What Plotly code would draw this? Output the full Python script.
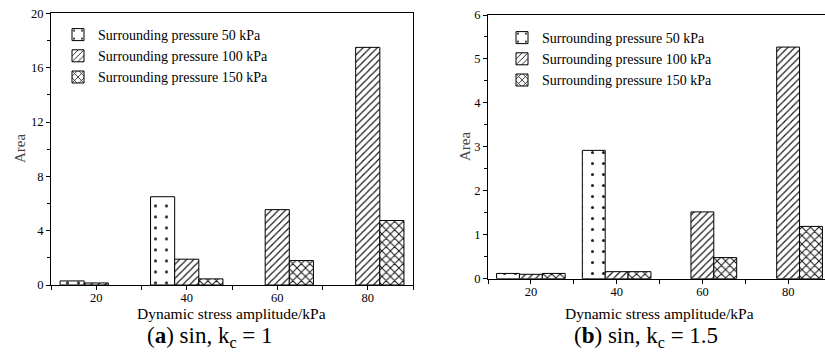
import plotly.graph_objects as go

W, H = 825, 356

amplitudes = [20, 40, 60, 80]
series_names = ["Surrounding pressure 50 kPa", "Surrounding pressure 100 kPa", "Surrounding pressure 150 kPa"]

# (a) sin, kc = 1  (None = no bar drawn)
a_50 = [0.3, 6.5, None, None]
a_100 = [0.15, 1.9, 5.55, 17.5]
a_150 = [None, 0.45, 1.8, 4.75]

# (b) sin, kc = 1.5
b_50 = [0.12, 2.92, None, None]
b_100 = [0.1, 0.16, 1.52, 5.27]
b_150 = [0.12, 0.16, 0.48, 1.19]

patterns = [
    dict(shape=".", size=11, solidity=0.06, fgcolor="#222", bgcolor="white", fillmode="replace"),
    dict(shape="/", size=5, solidity=0.22, fgcolor="#111", bgcolor="white", fillmode="replace"),
    dict(shape="x", size=6, solidity=0.3, fgcolor="#111", bgcolor="white", fillmode="replace"),
]

FONT = "Liberation Serif"

fig = go.Figure()

def add_set(values, xa, ya, legend):
    for name, vals, pat in zip(series_names, values, patterns):
        fig.add_trace(go.Bar(
            x=amplitudes, y=vals, name=name,
            xaxis=xa, yaxis=ya, legend=legend,
            marker=dict(color="white", pattern=pat, line=dict(color="black", width=1)),
        ))

add_set([a_50, a_100, a_150], "x", "y", "legend")
add_set([b_50, b_100, b_150], "x2", "y2", "legend2")

def px_x(p):
    return p / W

def px_y(p):
    return (H - p) / H

axis_common = dict(
    showline=True, linecolor="black", linewidth=1,
    ticks="outside", ticklen=4, tickcolor="black", tickwidth=1,
    showgrid=False, zeroline=False, automargin=False,
    tickfont=dict(family=FONT, size=12.5, color="black"),
)

xa_common = dict(axis_common, tickvals=amplitudes, ticktext=[str(v) for v in amplitudes],
                 ticklabelstandoff=-3,
                 minor=dict(ticks="outside", ticklen=4, tickcolor="black", dtick=10, tick0=10, showgrid=False))

legend_font = dict(family=FONT, size=14, color="black")

fig.update_layout(
    width=W, height=H,
    margin=dict(l=0, r=0, t=0, b=0, autoexpand=False),
    paper_bgcolor="white", plot_bgcolor="white",
    barmode="group", bargap=0.2, bargroupgap=0,
    font=dict(family=FONT, color="black"),
    xaxis=dict(xa_common, domain=[px_x(51), px_x(413)], range=[10, 90], anchor="y", mirror=True),
    yaxis=dict(axis_common, domain=[px_y(285), px_y(13.4)], range=[0, 20], anchor="x", mirror=True,
               tickvals=[0, 4, 8, 12, 16, 20],
               minor=dict(ticks="outside", ticklen=3, tickcolor="black", dtick=2, showgrid=False)),
    xaxis2=dict(xa_common, domain=[px_x(488), 1.0], range=[10, 88.6], anchor="y2", mirror=True),
    yaxis2=dict(axis_common, domain=[px_y(278.7), px_y(15)], range=[0, 6], anchor="x2", mirror=False,
                tickvals=[0, 1, 2, 3, 4, 5, 6],
                minor=dict(ticks="outside", ticklen=3, tickcolor="black", dtick=0.5, showgrid=False)),
    legend=dict(x=px_x(58), y=px_y(19), xanchor="left", yanchor="top",
                font=legend_font, bgcolor="rgba(0,0,0,0)",
                tracegroupgap=0, itemwidth=30, traceorder="normal"),
    legend2=dict(x=px_x(502), y=px_y(22), xanchor="left", yanchor="top",
                 font=legend_font, bgcolor="rgba(0,0,0,0)",
                 tracegroupgap=0, itemwidth=30, traceorder="normal"),
    showlegend=True,
)

# axis titles
for xc, yc in [(232, 313), (659, 313)]:
    fig.add_annotation(x=px_x(xc), y=px_y(yc), xref="paper", yref="paper",
                       text="Dynamic stress amplitude/kPa", showarrow=False,
                       font=dict(family=FONT, size=15.5, color="black"),
                       xanchor="center", yanchor="middle")
for xc, yc in [(20, 149), (465, 147)]:
    fig.add_annotation(x=px_x(xc), y=px_y(yc), xref="paper", yref="paper",
                       text="Area", showarrow=False, textangle=-90,
                       font=dict(family=FONT, size=15, color="#444"),
                       xanchor="center", yanchor="middle")

# captions
fig.add_annotation(x=px_x(210), y=px_y(337), xref="paper", yref="paper",
                   text="(<b>a</b>) sin, k<sub>c</sub> = 1", showarrow=False,
                   font=dict(family=FONT, size=23, color="black"), xanchor="center", yanchor="middle")
fig.add_annotation(x=px_x(646), y=px_y(337), xref="paper", yref="paper",
                   text="(<b>b</b>) sin, k<sub>c</sub> = 1.5", showarrow=False,
                   font=dict(family=FONT, size=23, color="black"), xanchor="center", yanchor="middle")

fig.write_html("out.html", config={"displayModeBar": False},
               post_script="document.body.style.margin='0';")
